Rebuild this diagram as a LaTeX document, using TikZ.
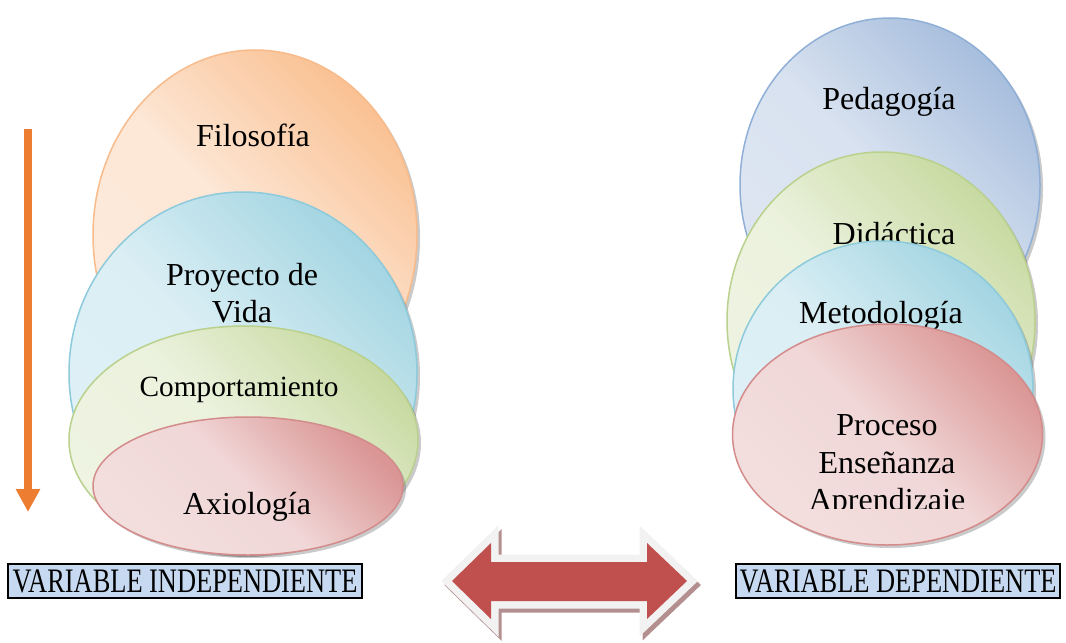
\documentclass[tikz,border=0pt]{standalone}
\usepackage{fontspec}
\setmainfont{Liberation Serif}
\usetikzlibrary{shadows,arrows.meta}

\newlength{\du}
\setlength{\du}{0.75pt}

\definecolor{orangelight}{rgb}{0.992, 0.922, 0.867}
\definecolor{orangedark}{rgb}{0.980, 0.757, 0.576}
\definecolor{orangeline}{rgb}{0.969, 0.733, 0.549}
\definecolor{bluelight}{rgb}{0.878, 0.945, 0.965}
\definecolor{bluedark}{rgb}{0.639, 0.835, 0.886}
\definecolor{blueline}{rgb}{0.553, 0.792, 0.859}
\definecolor{greenlight}{rgb}{0.937, 0.957, 0.890}
\definecolor{greendark}{rgb}{0.784, 0.855, 0.635}
\definecolor{greenline}{rgb}{0.725, 0.820, 0.549}
\definecolor{pinklight}{rgb}{0.953, 0.871, 0.871}
\definecolor{pinkdark}{rgb}{0.855, 0.588, 0.584}
\definecolor{pinkline}{rgb}{0.827, 0.549, 0.545}
\definecolor{greylight}{rgb}{0.871, 0.902, 0.949}
\definecolor{greydark}{rgb}{0.655, 0.745, 0.867}
\definecolor{greyline}{rgb}{0.561, 0.686, 0.843}
\definecolor{arrowred}{rgb}{0.753, 0.314, 0.302}
\definecolor{arrowrim}{rgb}{0.949, 0.949, 0.949}
\definecolor{arrowshade}{rgb}{0.706, 0.561, 0.561}
\definecolor{arrowline}{rgb}{0.929, 0.490, 0.192}
\definecolor{varfill}{rgb}{0.776, 0.851, 0.945}

\tikzset{
  bubble/.style n args={3}{draw=#3, line width=1.5\du,
    left color=#1, right color=#2, middle color=#1!90!#2,
    shading angle=135,
    drop shadow={shadow xshift=3\du, shadow yshift=-3\du, opacity=0.35, fill=black!60}},
  varbox/.style={draw=black, line width=1.7\du, fill=varfill, inner sep=0pt,
    font=\fontsize{19.8}{20}\selectfont, minimum height=33.4\du},
}

% both-ways arrow between the two columns
\newcommand{\dblarrow}[1]{\path[#1] (452\du,581\du)--(491\du,543\du)--(491\du,562\du)--(647\du,562\du)--(647\du,543\du)--(687\du,581\du)--(647\du,619\du)--(647\du,601\du)--(491\du,601\du)--(491\du,619\du)--cycle;}

\begin{document}
\begin{tikzpicture}
\tikzstyle{every node}=[font=\fontsize{24}{28}\selectfont]
\pgftransformxscale{1.000000}
\pgftransformyscale{-1.000000}
\useasboundingbox (0\du,0\du) rectangle (1066\du,642\du);

% left column
\coordinate (vtop) at (28.000000\du,129.000000\du);
\coordinate (vbot) at (28.000000\du,512.000000\du);
\draw[line width=8\du, color=arrowline, -{Triangle[width=17.25pt,length=17.25pt]}] (vtop)--(vbot);

\path[bubble={orangelight}{orangedark}{orangeline}] (255.000000\du,235.000000\du) ellipse [x radius=162\du, y radius=185\du];
\node (filo) at (253.000000\du,135.000000\du){Filosofía};
\path[bubble={bluelight}{bluedark}{blueline}] (243.000000\du,373.000000\du) ellipse [x radius=174\du, y radius=181\du];
\node[align=center] (proy) at (242.000000\du,293.000000\du){Proyecto de\\Vida};
\path[bubble={greenlight}{greendark}{greenline}] (243.500000\du,440.000000\du) ellipse [x radius=174.5\du, y radius=114\du];
\node[font=\fontsize{22}{26}\selectfont] (comp) at (239.000000\du,390.000000\du){Comportamiento};
\path[bubble={pinklight}{pinkdark}{pinkline}] (248.000000\du,486.000000\du) ellipse [x radius=155\du, y radius=69\du];
\node (axio) at (247.000000\du,507.000000\du){Axiología};

% right column
\path[bubble={greylight}{greydark}{greyline}] (890.000000\du,185.000000\du) ellipse [x radius=150\du, y radius=167\du];
\node (peda) at (889.000000\du,102.000000\du){Pedagogía};
\path[bubble={greenlight}{greendark}{greenline}] (881.000000\du,321.000000\du) ellipse [x radius=154\du, y radius=169\du];
\node (dida) at (894.000000\du,234.000000\du){Didáctica};
\path[bubble={bluelight}{bluedark}{blueline}] (883.000000\du,389.000000\du) ellipse [x radius=150\du, y radius=148\du];
\node (meto) at (881.000000\du,316.000000\du){Metodología};
\path[bubble={pinklight}{pinkdark}{pinkline}] (887.500000\du,434.500000\du) ellipse [x radius=155\du, y radius=110.5\du];
\begin{scope}
\clip (700\du,300\du) rectangle (1066\du,508\du);
\node[align=center] (proc) at (887.000000\du,466.000000\du){Proceso\\Enseñanza\\Aprendizaje};
\end{scope}

% middle arrow
\dblarrow{draw=arrowshade, fill=arrowshade, line width=15\du, shift={(3\du,4\du)}}
\dblarrow{draw=arrowrim, fill=arrowrim, line width=15\du}
\dblarrow{fill=arrowred}

% labels
\node[varbox, minimum width=353.4\du] (vind) at (185.000000\du,581.000000\du){\scalebox{1}[1.3]{VARIABLE INDEPENDIENTE}};
\node[varbox, minimum width=324\du] (vdep) at (898.000000\du,581.000000\du){\scalebox{1}[1.3]{VARIABLE DEPENDIENTE}};
\end{tikzpicture}
\end{document}
